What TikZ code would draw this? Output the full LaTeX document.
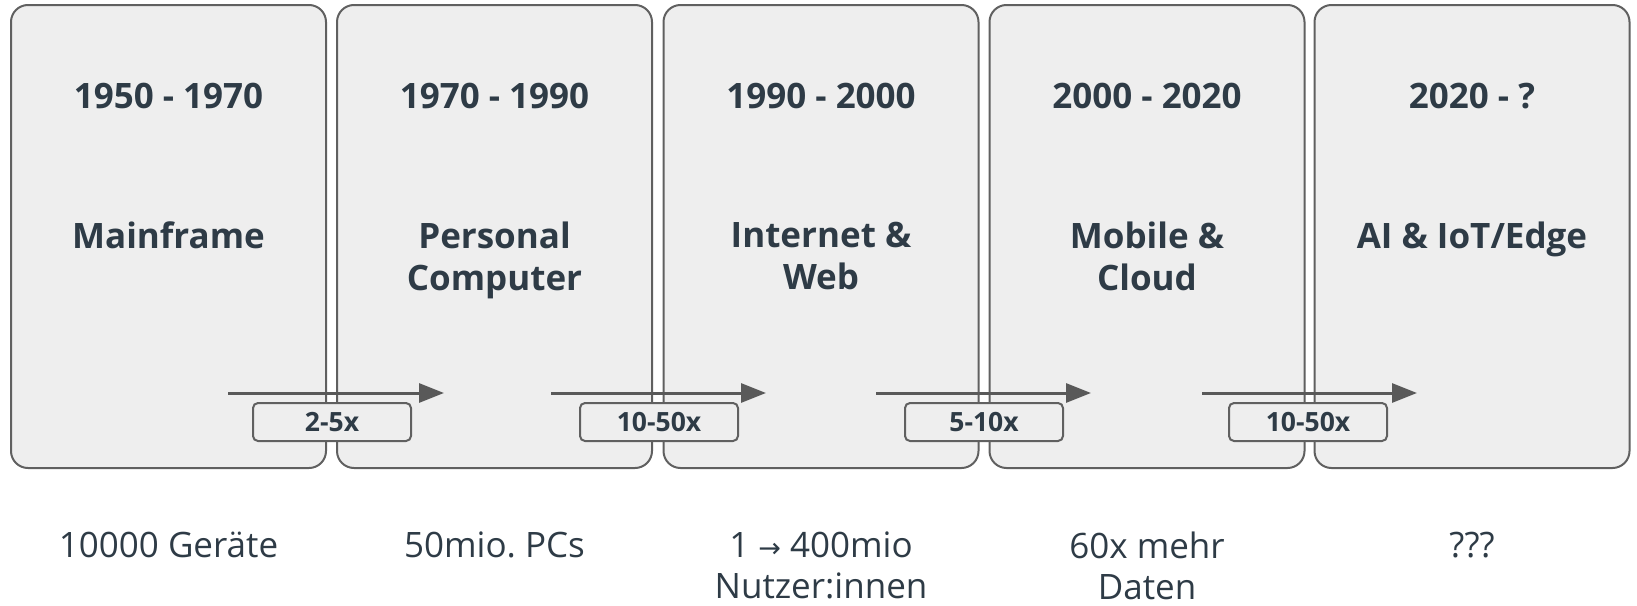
\documentclass[tikz,border=0pt]{standalone}
\usepackage{fontspec}
\setmainfont{Open Sans}
\newfontfamily\symfont{DejaVu Sans}
\usetikzlibrary{arrows.meta}
\definecolor{txt}{HTML}{2E3B46}
\definecolor{bord}{HTML}{606060}
\definecolor{boxfill}{HTML}{EEEEEE}
\definecolor{arrc}{HTML}{595959}
\frenchspacing
\begin{document}
\begin{tikzpicture}[x=1pt,y=-1pt,
  era/.style={draw=bord, fill=boxfill, line width=2pt, rounded corners=17pt,
    minimum width=315pt, minimum height=463pt, inner sep=0pt, outer sep=0pt},
  yeartxt/.style={anchor=north, inner sep=0pt, text=txt, align=center,
    font=\bfseries\fontsize{35}{42}\selectfont},
  nametxt/.style={anchor=north, inner sep=0pt, text=txt, align=center,
    font=\bfseries\fontsize{35}{42}\selectfont},
  bottxt/.style={anchor=north, inner sep=0pt, text=txt, align=center,
    font=\fontsize{35}{41}\selectfont},
  growth/.style={draw=arrc, line width=3pt,
    -{Triangle[length=25pt,width=19pt]}},
  lbl/.style={draw=bord, fill=boxfill, line width=2pt, rounded corners=5pt,
    minimum width=158pt, minimum height=38pt, inner sep=0pt, text=txt,
    font=\bfseries\fontsize{26.5}{30}\selectfont}
]
\useasboundingbox (0,0) rectangle (1637,605);

% era boxes
\node[era] (b1) at (168.5,236.5) {};
\node[era] (b2) at (494.5,236.5) {};
\node[era] (b3) at (821,236.5) {};
\node[era] (b4) at (1147,236.5) {};
\node[era] (b5) at (1472,236.5) {};

% years
\node[yeartxt] (y1) at (168.5,83) {1950 - 1970};
\node[yeartxt] (y2) at (494.5,83) {1970 - 1990};
\node[yeartxt] (y3) at (821,83) {1990 - 2000};
\node[yeartxt] (y4) at (1147,83) {2000 - 2020};
\node[yeartxt] (y5) at (1472,83) {2020 - ?};

% names
\node[nametxt] (n1) at (168.5,222) {Mainframe};
\node[nametxt] (n2) at (494.5,222) {Personal\\Computer};
\node[nametxt] (n3) at (821,222) {Internet \&\\Web};
\node[nametxt] (n4) at (1147,222) {Mobile \&\\Cloud};
\node[nametxt] (n5) at (1472,222) {AI \& IoT/Edge};

% growth arrows
\coordinate (a1s) at (228,393); \coordinate (a1e) at (444,393);
\coordinate (a2s) at (551,393); \coordinate (a2e) at (766,393);
\coordinate (a3s) at (876,393); \coordinate (a3e) at (1091,393);
\coordinate (a4s) at (1202,393); \coordinate (a4e) at (1417,393);
\draw[growth] (a1s) -- (a1e);
\draw[growth] (a2s) -- (a2e);
\draw[growth] (a3s) -- (a3e);
\draw[growth] (a4s) -- (a4e);

% growth labels
\node[lbl] (l1) at (332,422) {2-5x};
\node[lbl] (l2) at (659,422) {10-50x};
\node[lbl] (l3) at (984,422) {5-10x};
\node[lbl] (l4) at (1308,422) {10-50x};

% bottom texts
\node[bottxt] (c1) at (168.5,532) {10000 Geräte};
\node[bottxt] (c2) at (494.5,532) {50mio. PCs};
\node[bottxt] (c3) at (821,532) {1 {\symfont\fontsize{27}{41}\selectfont →} 400mio\\Nutzer:innen};
\node[bottxt] (c4) at (1147,532) {60x mehr\\Daten};
\node[bottxt] (c5) at (1472,532) {???};
\end{tikzpicture}
\end{document}
